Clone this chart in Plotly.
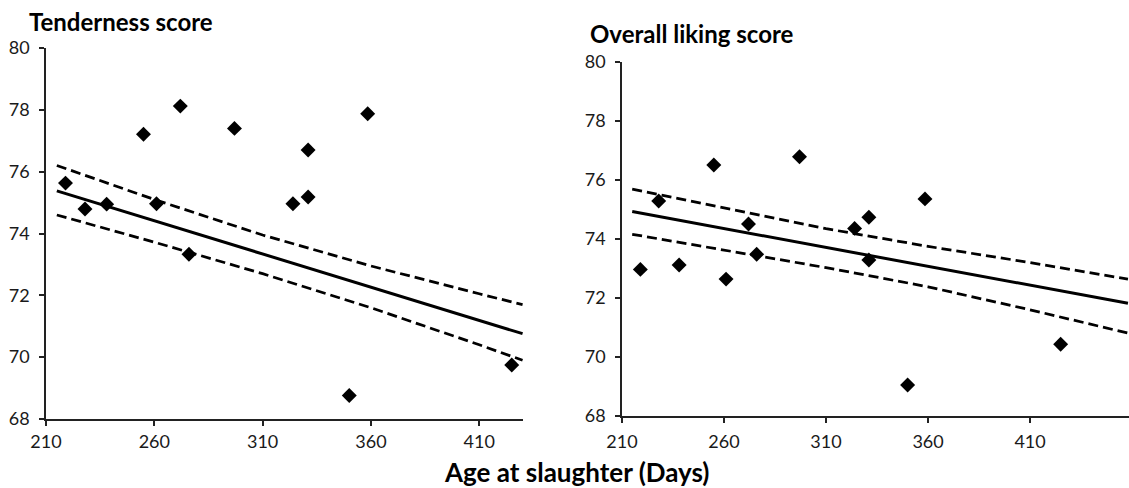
import plotly.graph_objects as go

# ---- data ----
age = [219, 228, 238, 255, 261, 272, 276, 297, 324, 331, 331, 350, 358.5, 425]
tenderness = [75.63, 74.79, 74.95, 77.21, 74.96, 78.12, 73.33, 77.40, 74.96, 76.70, 75.18, 68.76, 77.87, 69.75]
age_liking = [219, 228, 238, 255, 261, 272, 276, 297, 324, 331, 331, 350, 358.5, 425]
liking = [72.97, 75.29, 73.12, 76.51, 72.64, 74.51, 73.48, 76.79, 74.36, 74.74, 73.29, 69.05, 75.36, 70.43]

fit_x_left = [215, 260, 310, 360, 410, 430]
fit_tend = [75.38, 74.41, 73.33, 72.26, 71.19, 70.76]
upper_tend = [76.20, 75.10, 73.95, 72.95, 72.05, 71.70]
lower_tend = [74.60, 73.72, 72.70, 71.60, 70.40, 69.90]

fit_x_right = [215, 260, 310, 360, 410, 458]
fit_like = [74.93, 74.35, 73.71, 73.07, 72.43, 71.82]
upper_like = [75.69, 75.05, 74.35, 73.75, 73.20, 72.64]
lower_like = [74.16, 73.62, 73.03, 72.38, 71.60, 70.81]

x_ticks = [210, 260, 310, 360, 410]
y_ticks = [68, 70, 72, 74, 76, 78, 80]

FONT = "Lato"
INK = "#1a1a1a"

fig = go.Figure()

def add_panel(xa, ya, xs, ys, fx, fit, up, lo):
    dash = dict(color="black", width=2.75, dash="10px,5px")
    fig.add_trace(go.Scatter(x=fx, y=up, mode="lines", line=dash, xaxis=xa, yaxis=ya, showlegend=False))
    fig.add_trace(go.Scatter(x=fx, y=lo, mode="lines", line=dash, xaxis=xa, yaxis=ya, showlegend=False))
    fig.add_trace(go.Scatter(x=fx, y=fit, mode="lines", line=dict(color="black", width=3),
                             xaxis=xa, yaxis=ya, showlegend=False))
    fig.add_trace(go.Scatter(x=xs, y=ys, mode="markers",
                             marker=dict(symbol="diamond", size=11.5, color="black"),
                             xaxis=xa, yaxis=ya, showlegend=False))

add_panel("x", "y", age, tenderness, fit_x_left, fit_tend, upper_tend, lower_tend)
add_panel("x2", "y2", age_liking, liking, fit_x_right, fit_like, upper_like, lower_like)

W, H = 1129, 488

def xaxis_cfg(x0, x1, rmax, anchor, standoff):
    return dict(domain=[x0 / W, x1 / W], range=[210, rmax], tickvals=x_ticks,
                showgrid=False, zeroline=False, showline=True, linecolor="#222", linewidth=1.5,
                ticks="outside", ticklen=5, tickcolor="#222", tickwidth=1.5, ticklabelstandoff=standoff,
                tickfont=dict(family=FONT, size=18, color=INK), anchor=anchor, automargin=False)

def yaxis_cfg(top, bottom, anchor):
    return dict(domain=[(H - bottom) / H, (H - top) / H], range=[68, 80], tickvals=y_ticks,
                showgrid=False, zeroline=False, showline=True, linecolor="#222", linewidth=1.5,
                ticks="outside", ticklen=5, tickcolor="#222", tickwidth=1.5, ticklabelstandoff=6,
                tickfont=dict(family=FONT, size=18, color=INK), anchor=anchor, automargin=False)

fig.update_layout(
    width=W, height=H,
    margin=dict(l=0, r=0, t=0, b=0),
    paper_bgcolor="white", plot_bgcolor="white",
    xaxis=xaxis_cfg(46, 523, 430.2, "y", 1),
    yaxis=yaxis_cfg(48, 419, "x"),
    xaxis2=xaxis_cfg(622, 1129, 458.5, "y2", 4),
    yaxis2=yaxis_cfg(62, 416, "x2"),
    annotations=[
        dict(text="<b>Tenderness score</b>", x=27 / W, y=1 - 22 / H, xref="paper", yref="paper",
             xanchor="left", yanchor="middle", showarrow=False,
             font=dict(family=FONT, size=24, color="black")),
        dict(text="<b>Overall liking score</b>", x=588 / W, y=1 - 33 / H, xref="paper", yref="paper",
             xanchor="left", yanchor="middle", showarrow=False,
             font=dict(family=FONT, size=24, color="black")),
        dict(text="<b>Age at slaughter (Days)</b>", x=576 / W, y=1 - 472 / H, xref="paper", yref="paper",
             xanchor="center", yanchor="middle", showarrow=False,
             font=dict(family=FONT, size=26, color="black")),
    ],
)

fig.write_html(
    "out.html",
    post_script="document.body.style.margin='0';document.body.style.overflow='hidden';",
)
